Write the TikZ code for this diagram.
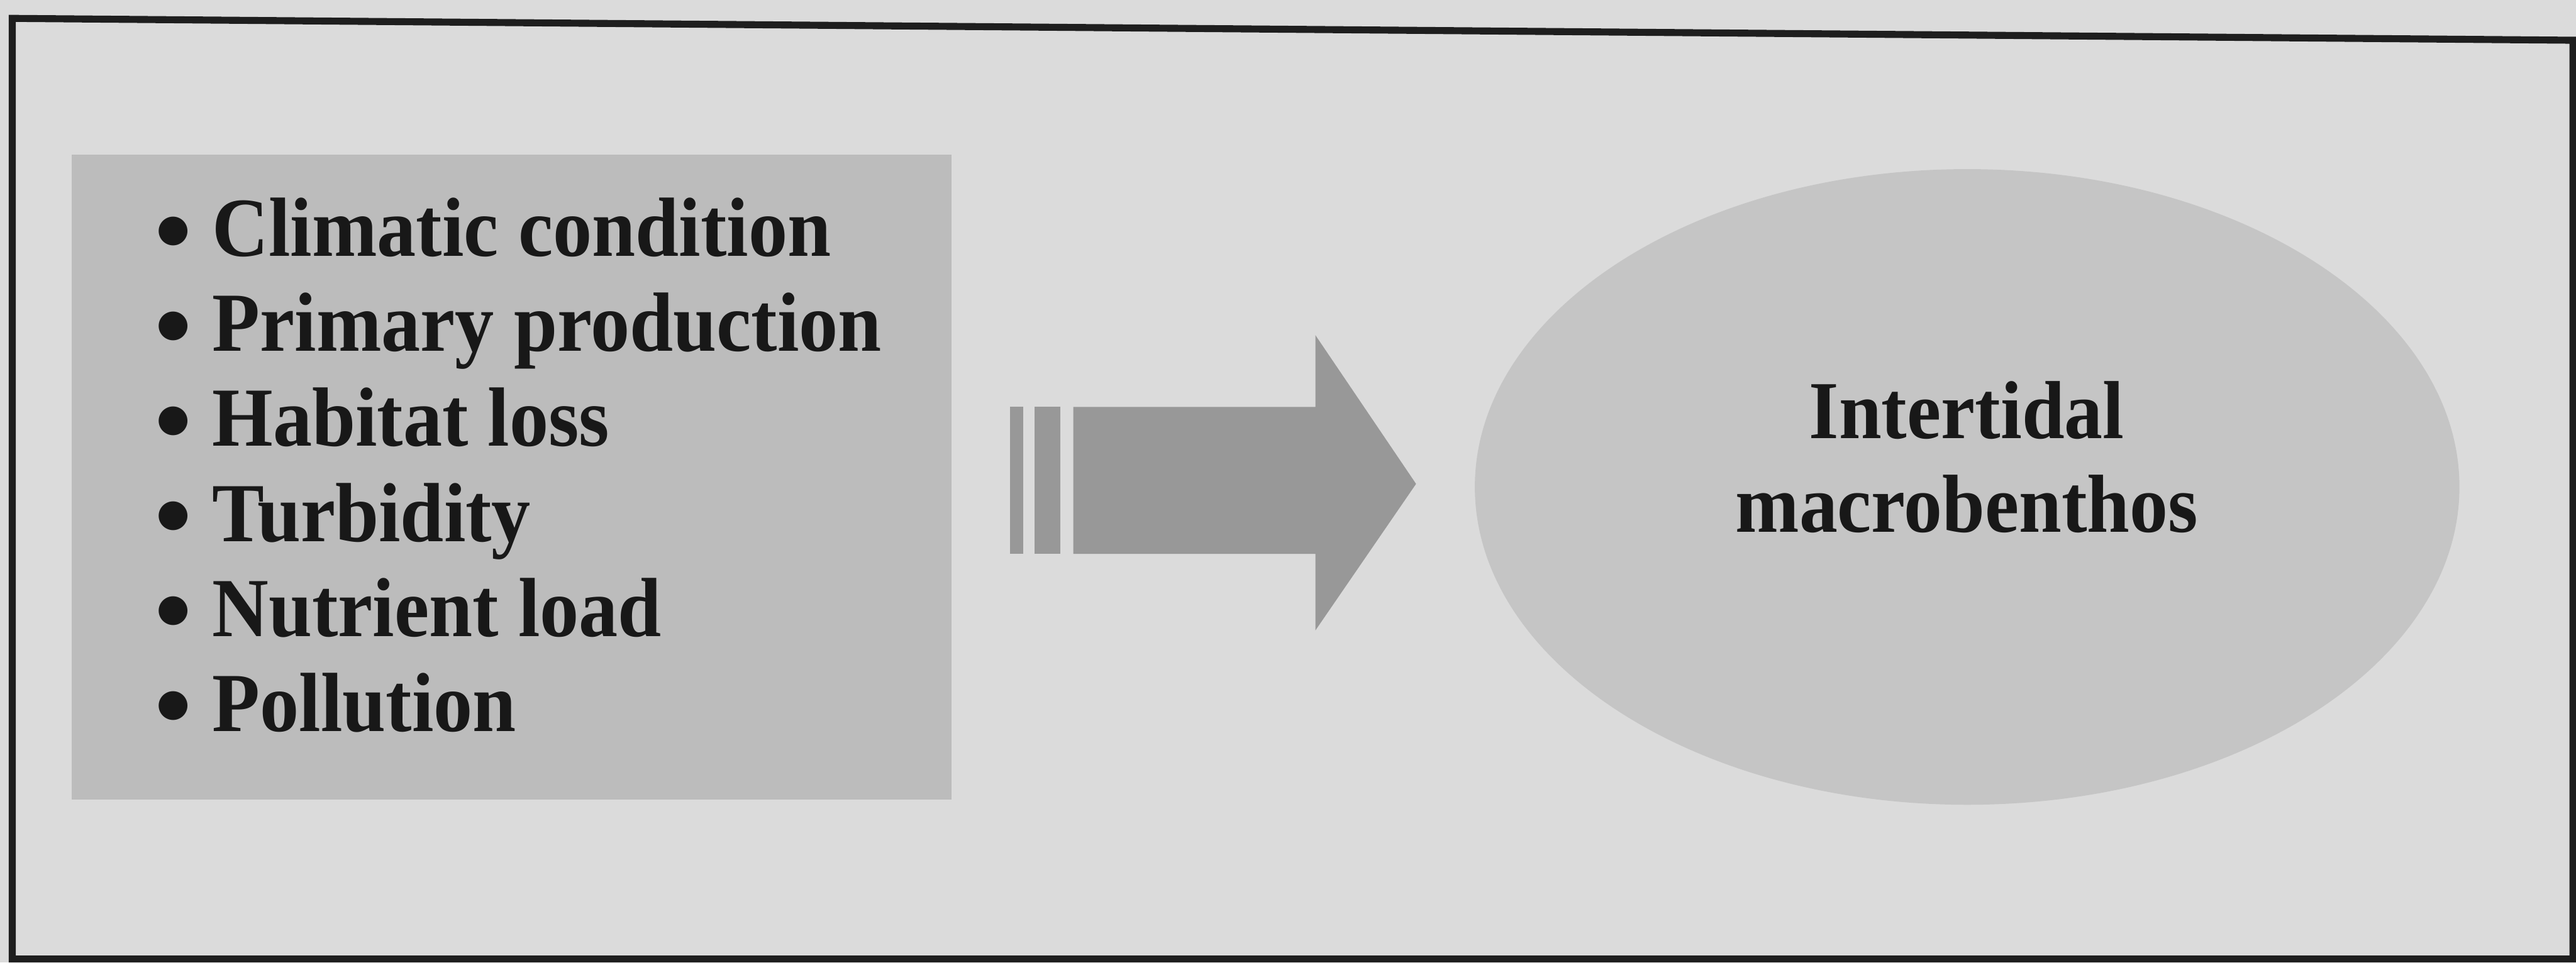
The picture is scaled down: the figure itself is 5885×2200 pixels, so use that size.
\documentclass[tikz,border=0pt]{standalone}
\usepackage{fontspec}
\setmainfont{Liberation Serif}[FakeStretch=0.93]
\newfontfamily\dotfont{DejaVu Sans}
\usetikzlibrary{shapes.geometric}
\definecolor{bgc}{RGB}{219,219,219}
\definecolor{boxc}{RGB}{188,188,188}
\definecolor{ellc}{RGB}{197,197,197}
\definecolor{arrc}{RGB}{152,152,152}
\definecolor{inkc}{RGB}{24,24,24}
\definecolor{framec}{RGB}{30,30,30}
\newcommand{\listfont}{\fontsize{54.6}{61.7}\selectfont\bfseries}
\newcommand{\cellfont}{\fontsize{53.5}{61.7}\selectfont\bfseries}
\newcommand{\bul}{\makebox[1.78cm][c]{\dotfont\fontsize{24.5}{24.5}\selectfont\raisebox{9.9pt}{●}}}
\begin{document}
\begin{tikzpicture}[x=0.01cm,y=-0.01cm,
  frameline/.style={draw=framec,line width=0.16cm,line join=miter},
  factorbox/.style={rectangle,fill=boxc,draw=none,minimum width=20.08cm,minimum height=14.73cm,inner sep=0pt},
  targetell/.style={ellipse,fill=ellc,draw=none,minimum width=22.48cm,minimum height=14.52cm,inner sep=0pt},
  listtext/.style={anchor=base west,inner sep=0pt,text=inkc,font=\listfont,align=left},
  celltext/.style={anchor=base,inner sep=0pt,text=inkc,font=\cellfont},
  arrowfill/.style={fill=arrc,draw=none}]
\useasboundingbox (0,0) rectangle (5885,2200);
\fill[bgc] (0,0) rectangle (5885,2200);
\draw[frameline] (28,42) -- (5878,92) -- (5878,2192) -- (28,2192) -- cycle;

\node[factorbox] (factors) at (1169,1091) {};
\node[listtext] (factorlist) at (306,1671) {\bul Climatic condition\\
\bul Primary production\\
\bul Habitat loss\\
\bul Turbidity\\
\bul Nutrient load\\
\bul Pollution};

\node[targetell] (target) at (4494,1113) {};
\node[celltext] (t1) at (4493,1002) {Intertidal};
\node[celltext] (t2) at (4493,1216) {macrobenthos};

% arrow
\coordinate (s1) at (2307,930);
\coordinate (s2) at (2364,930);
\coordinate (ab) at (2452,930);
\coordinate (ah) at (3005,930);
\coordinate (tip) at (3235,1106);
\fill[arrowfill] (s1) rectangle (2337,1266);
\fill[arrowfill] (s2) rectangle (2423,1266);
\fill[arrowfill] (ab) -- (ah) -- (3005,766) -- (tip) -- (3005,1441) -- (3005,1266) -- (2452,1266) -- cycle;
\end{tikzpicture}
\end{document}
